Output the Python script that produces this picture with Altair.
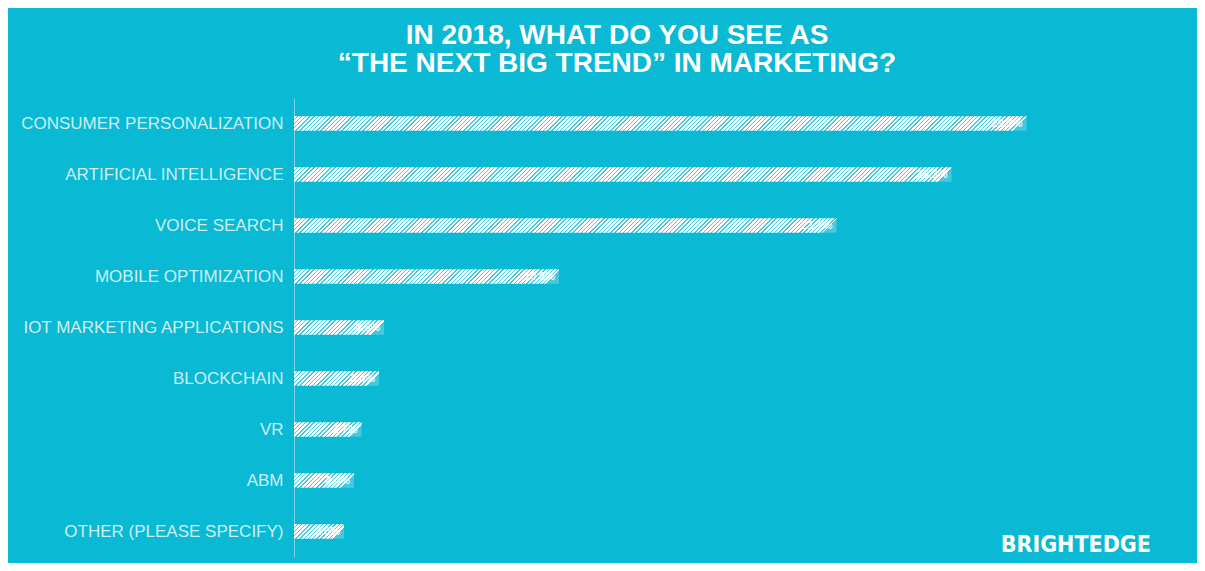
import altair as alt

# ---- data ----
categories = [
    "CONSUMER PERSONALIZATION",
    "ARTIFICIAL INTELLIGENCE",
    "VOICE SEARCH",
    "MOBILE OPTIMIZATION",
    "IOT MARKETING APPLICATIONS",
    "BLOCKCHAIN",
    "VR",
    "ABM",
    "OTHER (PLEASE SPECIFY)",
]
values = [29.3, 26.3, 21.7, 10.6, 3.6, 3.4, 2.7, 2.4, 2.0]

title_lines = ["IN 2018, WHAT DO YOU SEE AS", "\u201cTHE NEXT BIG TREND\u201d IN MARKETING?"]
logo_text = ["BRIGHTEDGE"]

# ---- style ----
BG = "#0ab9d3"
GAP = "#45c9de"
LABEL = "#cdeff5"
X_MAX = 36
PLOT_W = 900
PLOT_H = 459
BAR_H = 51 * (1 - 0.72)


def hatch(length_px, h=BAR_H, period=4.2, white_frac=0.64):
    """Diagonal '/' hatch as a linear gradient in bounding-box units."""
    L = length_px + h * h / length_px
    stops = []
    k = 0
    while k * period < L:
        a = round(k * period / L, 5)
        b = round(min((k * period + white_frac * period) / L, 1), 5)
        c = round(min((k + 1) * period / L, 1), 5)
        stops += [
            {"offset": a, "color": "#ffffff"},
            {"offset": b, "color": "#ffffff"},
            {"offset": b, "color": GAP},
            {"offset": c, "color": GAP},
        ]
        k += 1
    return {"gradient": "linear", "x1": 0, "y1": 0, "x2": 1,
            "y2": round(h / length_px, 5), "stops": stops}


rows = []
for cat, v in zip(categories, values):
    px = v / X_MAX * PLOT_W
    rows.append({"category": cat, "value": v, "grad": hatch(px)})

data = alt.Data(values=rows)

y_enc = alt.Y(
    "category:N",
    sort=categories,
    title=None,
    scale=alt.Scale(paddingInner=0.72, paddingOuter=0.36),
    axis=alt.Axis(
        labelColor=LABEL,
        labelFont="Liberation Sans",
        labelFontSize=17,
        labelPadding=11,
        ticks=False,
        domainColor="#7dd7e7",
        domainWidth=1,
        grid=False,
        labelLimit=400,
    ),
)
x_enc = alt.X("value:Q", scale=alt.Scale(domain=[0, X_MAX]), axis=None)

bars = alt.Chart(data).mark_bar().encode(
    x=x_enc,
    y=y_enc,
    fill=alt.Fill("grad:N", scale=None, legend=None),
)

labels = alt.Chart(data).transform_calculate(
    label="format(datum.value, '.1f') + '%'"
).mark_text(
    align="right", baseline="middle", dx=-4, color="white",
    font="Liberation Sans", fontSize=11, fontWeight="bold", opacity=0.85,
).encode(x=x_enc, y=y_enc, text="label:N")

logo = alt.Chart(alt.Data(values=[{"t": t} for t in logo_text])).mark_text(
    align="right", baseline="alphabetic", color="white",
    font="DejaVu Sans Condensed, Liberation Sans Narrow, sans-serif",
    fontWeight="bold", fontSize=23,
).encode(x=alt.value(857), y=alt.value(454), text="t:N")

chart = alt.layer(bars, labels, logo).properties(
    width=PLOT_W,
    height=PLOT_H,
    background=BG,
    padding={"left": 286, "top": 90, "right": 3, "bottom": 6},
    autosize=alt.AutoSizeParams(type="none"),
    title=alt.TitleParams(
        text=title_lines,
        color="white",
        font="Liberation Sans",
        fontWeight="bold",
        fontSize=28,
        lineHeight=28,
        anchor="middle",
        dx=-127,
        offset=20,
    ),
).configure_view(stroke=None)

chart.save("out.html", embed_options={"renderer": "svg", "actions": False})
